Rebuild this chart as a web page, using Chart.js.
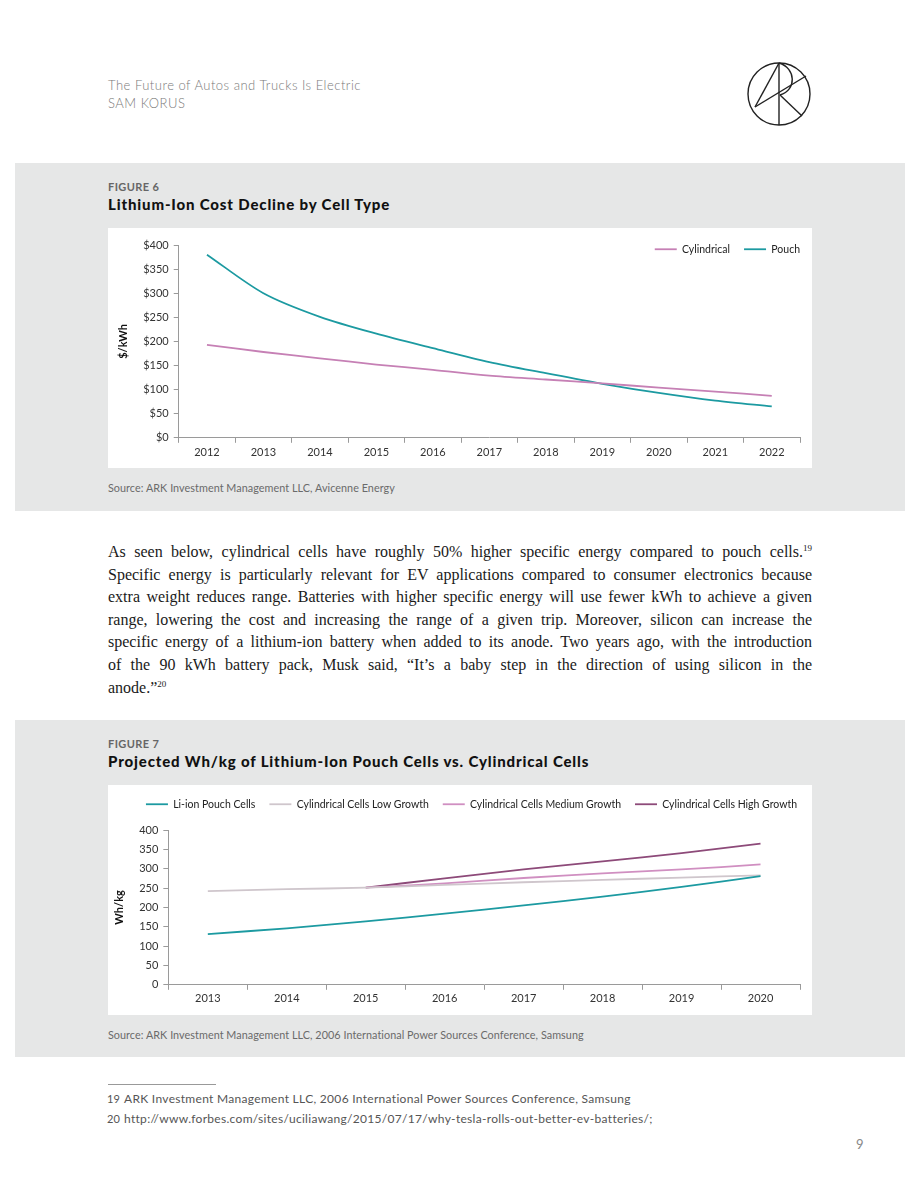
<!DOCTYPE html>
<html>
<head>
<meta charset="utf-8">
<script src="https://cdn.jsdelivr.net/npm/chart.js@4.4.0/dist/chart.umd.min.js"></script>
<style>
  html, body { margin: 0; padding: 0; background: #fff; }
  body { width: 920px; height: 1191px; position: relative; overflow: hidden; font-family: Lato, "Open Sans", sans-serif; }
  .abs { position: absolute; }
  .hdr { left: 108px; font-size: 13px; color: #7a7a7a; font-weight: 300; letter-spacing: 0.5px; }
  .panel { left: 15px; width: 890px; background: #e6e7e7; }
  .fig { left: 108px; font-size: 11px; font-weight: 700; color: #666; letter-spacing: 0.4px; }
  .ttl { left: 108px; font-size: 15px; font-weight: 900; color: #111; letter-spacing: 0.85px; }
  .src { left: 108px; font-size: 10.8px; color: #6a6a6a; letter-spacing: 0.05px; }
  .box { left: 108px; width: 704px; background: #fff; }
  .para { left: 108px; width: 704px; font-family: "Liberation Serif", "DejaVu Serif", serif; font-size: 16px; color: #1a1a1a; }
  .para div { height: 22.6px; line-height: 22.6px; text-align: justify; text-align-last: justify; white-space: nowrap; }
  .para div.last { text-align-last: left; }
  .para sup { font-size: 9px; line-height: 0; vertical-align: 6px; }
  .fn { font-size: 12px; color: #555; letter-spacing: 0.3px; white-space: nowrap; }
  .fnn { font-size: 11px; color: #555; letter-spacing: 0; white-space: nowrap; }
</style>
</head>
<body>
<div class="abs hdr" style="top:77px;">The Future of Autos and Trucks Is Electric</div>
<div class="abs hdr" style="top:95px;">SAM KORUS</div>
<svg class="abs" style="left:740px;top:55px;" width="80" height="80" viewBox="740 55 80 80">
  <g fill="none" stroke="#222" stroke-width="1.4">
    <circle cx="779" cy="94" r="31"/>
    <line x1="779" y1="63" x2="779" y2="125"/>
    <line x1="779" y1="63" x2="755" y2="107"/>
    <line x1="755" y1="107" x2="806" y2="76"/>
    <path d="M779 63 C 796 68, 797 90, 780 95"/>
    <line x1="780" y1="95" x2="802" y2="116"/>
  </g>
</svg>

<div class="abs panel" style="top:163px;height:348px;"></div>
<div class="abs fig" style="top:180px;">FIGURE 6</div>
<div class="abs ttl" style="top:195px;">Lithium-Ion Cost Decline by Cell Type</div>
<div class="abs box" style="top:228px;height:240px;"><canvas id="c1"></canvas></div>
<div class="abs src" style="top:481px;">Source: ARK Investment Management LLC, Avicenne Energy</div>

<div class="abs para" style="top:541px;">
  <div>As seen below, cylindrical cells have roughly 50% higher specific energy compared to pouch cells.<sup>19</sup></div>
  <div>Specific energy is particularly relevant for EV applications compared to consumer electronics because</div>
  <div>extra weight reduces range. Batteries with higher specific energy will use fewer kWh to achieve a given</div>
  <div>range, lowering the cost and increasing the range of a given trip. Moreover, silicon can increase the</div>
  <div>specific energy of a lithium-ion battery when added to its anode. Two years ago, with the introduction</div>
  <div>of the 90 kWh battery pack, Musk said, “It’s a baby step in the direction of using silicon in the</div>
  <div class="last">anode.”<sup>20</sup></div>
</div>

<div class="abs panel" style="top:720px;height:337px;"></div>
<div class="abs fig" style="top:737px;">FIGURE 7</div>
<div class="abs ttl" style="top:752px;">Projected Wh/kg of Lithium-Ion Pouch Cells vs. Cylindrical Cells</div>
<div class="abs box" style="top:785px;height:230px;"><canvas id="c2"></canvas></div>
<div class="abs src" style="top:1028px;">Source: ARK Investment Management LLC, 2006 International Power Sources Conference, Samsung</div>

<div class="abs" style="left:108px;top:1084px;width:108px;height:1px;background:#999;"></div>
<div class="abs fnn" style="left:107px;top:1092px;">19</div>
<div class="abs fn" style="left:124px;top:1091px;">ARK Investment Management LLC, 2006 International Power Sources Conference, Samsung</div>
<div class="abs fnn" style="left:107px;top:1112px;">20</div>
<div class="abs fn" style="left:124px;top:1111px;">http://www.forbes.com/sites/uciliawang/2015/07/17/why-tesla-rolls-out-better-ev-batteries/;</div>
<div class="abs" style="left:856px;top:1136px;font-size:13px;color:#888;">9</div>

<script>
// ---- Figure 6 data ----
const years6 = ['2012','2013','2014','2015','2016','2017','2018','2019','2020','2021','2022'];
const cylindricalCost = [193, 178, 165, 152, 141, 129, 121, 113, 104, 96, 87];
const pouchCost = [380, 300, 251, 216, 186, 157, 134, 112, 93, 77, 65];

// ---- Figure 7 data ----
const years7 = ['2013','2014','2015','2016','2017','2018','2019','2020'];
const pouchWhKg = [131, 146, 164, 184, 205, 228, 253, 281];
const lowGrowth = [242, 247, 251, 258, 265, 271, 277, 283];
const mediumGrowth = [null, null, 251, 262, 276, 288, 298, 311];
const highGrowth = [null, null, 251, 275, 298, 319, 340, 365];

const TEAL = '#1c9aa1';
const PINK = '#c680b5';
const LOWC = '#cfc6cc';
const MEDC = '#d08fc1';
const HIGHC = '#8d4a79';

Chart.defaults.font.family = 'Lato, "Open Sans", sans-serif';
Chart.defaults.color = '#333';
Chart.defaults.animation = false;

const axisColor = '#9a9a9a';

// Adjusts the reserved legend height and shifts the legend horizontally.
function legendTweak(height, dx, extraClip) {
  return {
    id: 'legendTweak',
    beforeLayout(chart) {
      const lg = chart.legend;
      if (lg && !lg._tweaked) {
        const orig = lg.fit;
        lg.fit = function () { orig.call(this); this.height = height; };
        lg._tweaked = true;
      }
    },
    afterLayout(chart) {
      const lg = chart.legend;
      if (lg) { lg.left += dx; lg.right += dx; lg.bottom += extraClip; lg.height += extraClip; }
    }
  };
}

function axes(yCallback, yTitle, xPad) {
  return {
    x: {
      offset: true,
      grid: { offset: true, drawOnChartArea: false, drawTicks: true, tickLength: 5, color: axisColor },
      border: { color: axisColor },
      ticks: { font: { size: 11 }, color: '#333', padding: xPad, maxRotation: 0 }
    },
    y: {
      min: 0, max: 400,
      grid: { drawOnChartArea: false, drawTicks: true, tickLength: 5, color: axisColor },
      border: { color: axisColor },
      ticks: { stepSize: 50, font: { size: 11 }, color: '#333', padding: 5, callback: yCallback },
      title: { display: true, text: yTitle, font: { size: 11, weight: 'bold' }, color: '#111', padding: { top: 0, bottom: 8 } }
    }
  };
}

function line(label, data, color) {
  return { label, data, borderColor: color, backgroundColor: color, borderWidth: 1.8, pointRadius: 0, tension: 0.3 };
}

new Chart(document.getElementById('c1'), {
  type: 'line',
  data: {
    labels: years6,
    datasets: [
      line('Cylindrical', cylindricalCost, PINK),
      line('Pouch', pouchCost, TEAL)
    ]
  },
  options: {
    responsive: true, maintainAspectRatio: false,
    layout: { padding: { top: 2, right: 12, left: 9, bottom: 6 } },
    plugins: {
      tooltip: { enabled: false },
      legend: {
        position: 'top', align: 'end',
        labels: { usePointStyle: true, pointStyle: 'line', pointStyleWidth: 22, font: { size: 10.5 }, color: '#222', padding: 14, boxHeight: 8 }
      }
    },
    scales: axes(v => '$' + v, '$/kWh', 3)
  },
  plugins: [legendTweak(15, 14, 30)]
});

new Chart(document.getElementById('c2'), {
  type: 'line',
  data: {
    labels: years7,
    datasets: [
      line('Li-ion Pouch Cells', pouchWhKg, TEAL),
      line('Cylindrical Cells Low Growth', lowGrowth, LOWC),
      line('Cylindrical Cells Medium Growth', mediumGrowth, MEDC),
      line('Cylindrical Cells High Growth', highGrowth, HIGHC)
    ]
  },
  options: {
    responsive: true, maintainAspectRatio: false,
    layout: { padding: { top: 0, right: 12, left: 5, bottom: 8 } },
    plugins: {
      tooltip: { enabled: false },
      legend: {
        position: 'top', align: 'center',
        labels: { usePointStyle: true, pointStyle: 'line', pointStyleWidth: 22, font: { size: 10.5 }, color: '#222', padding: 14, boxHeight: 8 }
      }
    },
    scales: axes(v => v, 'Wh/kg', 2)
  },
  plugins: [legendTweak(45, 15, 0)]
});
</script>
</body>
</html>
